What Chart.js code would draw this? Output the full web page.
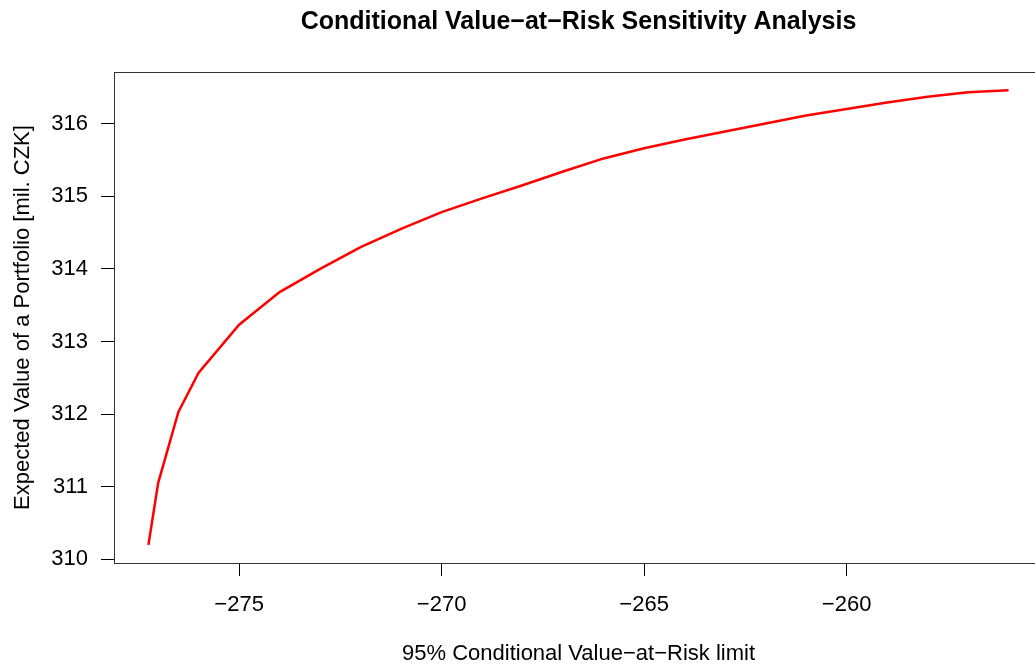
<!DOCTYPE html>
<html>
<head>
<meta charset="utf-8">
<script src="https://cdn.jsdelivr.net/npm/chart.js@4.4.1/dist/chart.umd.min.js"></script>
<style>
  html, body { margin: 0; padding: 0; background: #fff; overflow: hidden; }
</style>
</head>
<body>
<canvas id="cvarChart" width="1050" height="664"></canvas>
<script>
// CVaR limit (x) vs expected portfolio value (y)
const cvarLimits = [-277.24, -277, -276.5, -276, -275, -274, -273, -272, -271, -270,
                    -269, -268, -267, -266, -265, -264, -263, -262, -261, -260,
                    -259, -258, -257, -256];
const expectedValues = [310.20, 311.05, 312.03, 312.57, 313.23, 313.68, 314.00, 314.30, 314.55, 314.78,
                        314.97, 315.15, 315.34, 315.52, 315.66, 315.78, 315.89, 316.00, 316.11, 316.20,
                        316.29, 316.37, 316.43, 316.46];
const xTicks = [-275, -270, -265, -260];
const yTicks = [310, 311, 312, 313, 314, 315, 316];

const fontFamily = '"Liberation Sans", Arial, Helvetica, sans-serif';
const minus = v => String(v).replace('-', '\u2212');

// R style box round the plot area
const boxPlugin = {
    id: 'box',
    afterDraw(chart) {
        const a = chart.chartArea;
        const ctx = chart.ctx;
        ctx.save();
        ctx.strokeStyle = '#333';
        ctx.lineWidth = 1;
        ctx.strokeRect(Math.round(a.left) + 0.5, Math.round(a.top) + 0.5,
                       Math.round(a.right - a.left), Math.round(a.bottom - a.top));
        ctx.restore();
    }
};

const ctx = document.getElementById('cvarChart').getContext('2d');
new Chart(ctx, {
    type: 'line',
    data: {
        datasets: [{
            data: cvarLimits.map((x, i) => ({ x: x, y: expectedValues[i] })),
            borderColor: '#ff0000',
            borderWidth: 2.5,
            pointRadius: 0,
            tension: 0,
            fill: false
        }]
    },
    options: {
        responsive: false,
        animation: false,
        devicePixelRatio: 1,
        layout: { padding: { top: 0, right: 7, bottom: 0, left: 0 } },
        plugins: {
            legend: { display: false },
            tooltip: { enabled: false },
            title: {
                display: true,
                fullSize: false,
                text: 'Conditional Value\u2212at\u2212Risk Sensitivity Analysis',
                color: '#000',
                font: { family: fontFamily, size: 25, weight: 'bold' },
                padding: { top: 7, bottom: 35 }
            }
        },
        scales: {
            x: {
                type: 'linear',
                min: -278.09,
                max: -255.15,
                afterBuildTicks: s => { s.ticks = xTicks.map(v => ({ value: v })); },
                afterFit: s => { s.height = 101; },
                grid: { drawOnChartArea: false, drawTicks: true, tickLength: 13, color: '#000' },
                border: { display: false },
                ticks: {
                    color: '#000',
                    font: { family: fontFamily, size: 22 },
                    padding: 16,
                    maxRotation: 0,
                    callback: v => minus(v)
                },
                title: {
                    display: true,
                    text: '95% Conditional Value\u2212at\u2212Risk limit',
                    color: '#000',
                    font: { family: fontFamily, size: 22 },
                    padding: { top: 0, bottom: -3 }
                }
            },
            y: {
                min: 309.95,
                max: 316.71,
                afterBuildTicks: s => { s.ticks = yTicks.map(v => ({ value: v })); },
                afterFit: s => { s.width = 114; },
                grid: { drawOnChartArea: false, drawTicks: true, tickLength: 13, color: '#000' },
                border: { display: false },
                ticks: {
                    color: '#000',
                    font: { family: fontFamily, size: 22 },
                    padding: 13,
                    callback: v => minus(v)
                },
                title: {
                    display: true,
                    text: 'Expected Value of a Portfolio [mil. CZK]',
                    color: '#000',
                    font: { family: fontFamily, size: 22 },
                    padding: { top: 10, bottom: 0 }
                }
            }
        }
    },
    plugins: [boxPlugin]
});
</script>
</body>
</html>
